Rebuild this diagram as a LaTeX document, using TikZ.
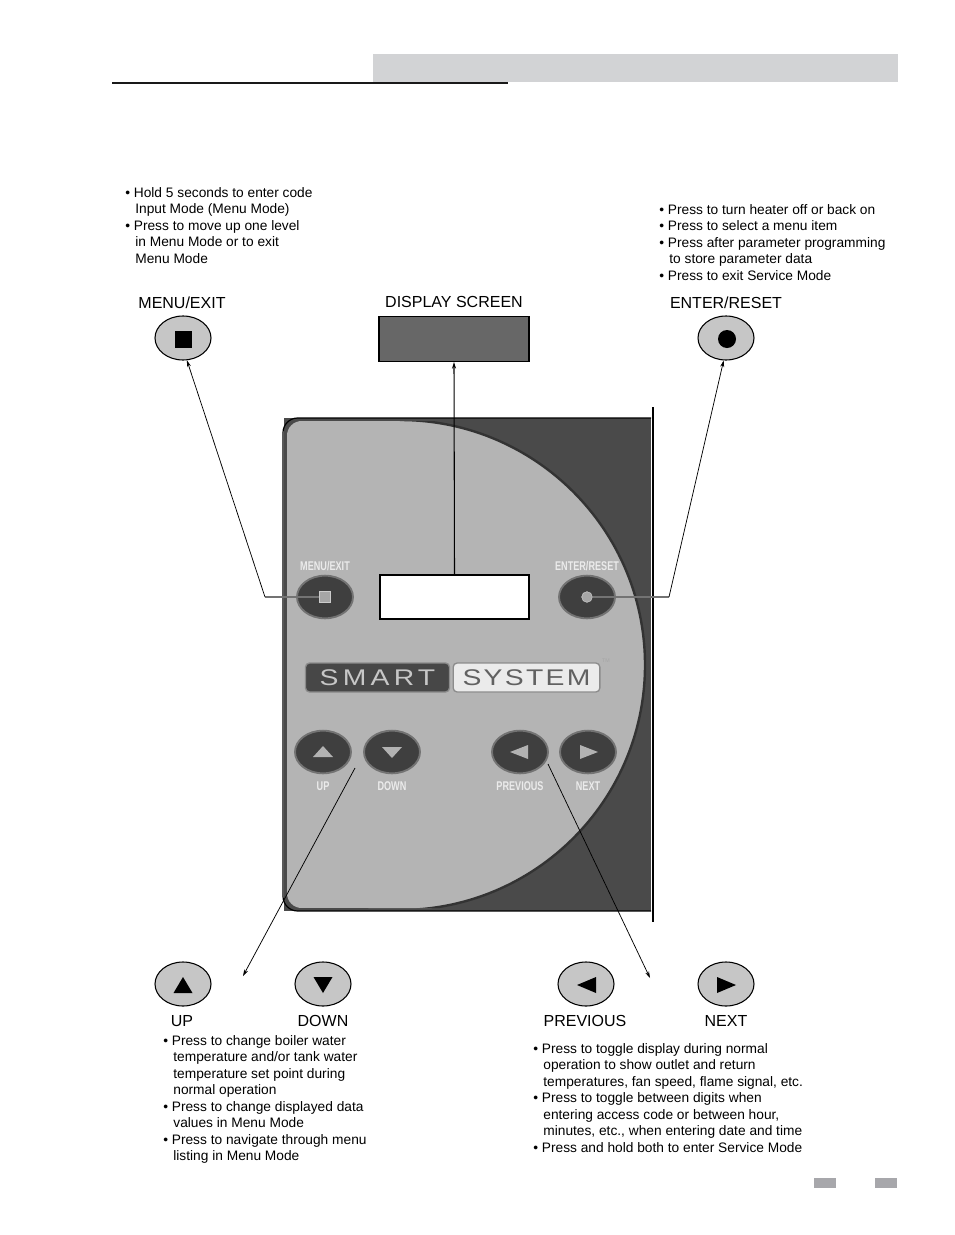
\documentclass[tikz,border=0pt]{standalone}
\usepackage{fontspec}
\setmainfont{Liberation Sans}
\usetikzlibrary{shapes.geometric,arrows.meta}
\definecolor{hdrgray}{HTML}{D2D3D5}
\definecolor{ftgray}{HTML}{A7A7AB}
\definecolor{btnlight}{HTML}{C6C6C6}
\definecolor{screengray}{HTML}{676767}
\definecolor{paneldark}{HTML}{4A4A4A}
\definecolor{panellight}{HTML}{B4B4B4}
\definecolor{pbtn}{HTML}{3F3F3F}
\newcommand\bulitem{•\space}
\newcommand\contind{\hspace*{7.6pt}}
\tikzset{
  bigbtn/.style={ellipse, draw=black, line width=0.8pt, fill=btnlight,
    minimum width=42pt, minimum height=33pt, inner sep=0pt},
  panbtn/.style={ellipse, draw=black!55, line width=1.4pt, fill=pbtn,
    minimum width=42pt, minimum height=32pt, inner sep=0pt},
  lbl/.style={font=\fontsize{12}{14}\selectfont, inner sep=0pt, anchor=base},
  notes/.style={font=\fontsize{10.3}{12.35}\selectfont, align=left,
    anchor=north west, inner sep=0pt},
  panlbl/.style={font=\fontsize{9.5}{10}\selectfont\bfseries,
    text=white!92!black, inner sep=0pt},
  leader/.style={black, line width=0.55pt},
  grayleader/.style={black!55, line width=0.9pt},
  tip/.style={-{Stealth[length=5pt,width=3pt]}},
}
\begin{document}
\begin{tikzpicture}[x=0.75pt,y=-0.75pt]
\useasboundingbox (0,0) rectangle (954,1235);

% header
\fill[hdrgray] (373,54) rectangle (898,82);
\draw[black!90, line width=1.2pt] (112,83) -- (508,83);

% footer marks
\fill[ftgray] (814,1178) rectangle (836,1188);
\fill[ftgray] (875,1178) rectangle (897,1188);

% ---------- control panel ----------
\fill[paneldark] (284,418) rectangle (651,911);
\begin{scope}
  \clip[rounded corners=11pt] (287,421) rectangle (649,908);
  \fill[panellight] (287,421) rectangle (401,908);
  \fill[panellight] (400,665) circle [radius=183.75pt];
  \draw[black!80, line width=1.8pt] (400,420)
     arc[start angle=90, end angle=-90, radius=183.75pt];
\end{scope}
\draw[black, line width=0.9pt, rounded corners=11pt]
  (651,418) -- (283,418) -- (283,911) -- (651,911);
\draw[black, line width=0.9pt] (653,407) -- (653,922);

% panel buttons
\node[panbtn] (pmenu) at (325,597) {};
\node[fill=black!35, draw=black!20, minimum size=8pt, inner sep=0pt] (pmenuicon) at (325,597) {};
\node[panlbl] (pmenulbl) at (325,566) {\scalebox{0.72}[1]{MENU/EXIT}};
\node[panbtn] (penter) at (587,597) {};
\node[circle, fill=black!35, draw=black!20, minimum size=8pt, inner sep=0pt] (pentericon) at (587,597) {};
\node[panlbl] (penterlbl) at (587,566) {\scalebox{0.72}[1]{ENTER/RESET}};

\node[rectangle, fill=white, draw=black, line width=0.8pt,
      minimum width=111.75pt, minimum height=33pt, inner sep=0pt] (pscreen) at (454.5,597) {};

% logo
\node[draw=black!45, line width=1pt, fill=black!72, rounded corners=3pt,
      minimum width=108pt, minimum height=21.75pt, inner sep=0pt] (logosmart) at (377.5,677.5)
  {\fontsize{17}{17}\selectfont\color{black!22}\scalebox{1.25}[1]{\addfontfeatures{LetterSpace=15}SMART}};
\node[draw=black!45, line width=1pt, fill=black!8, rounded corners=3pt,
      minimum width=110pt, minimum height=21.75pt, inner sep=0pt] (logosystem) at (526.5,677.5)
  {\fontsize{17}{17}\selectfont\color{black!62}\scalebox{1.25}[1]{\addfontfeatures{LetterSpace=8}SYSTEM}};
\node[font=\fontsize{4}{4}\selectfont, text=black!35, inner sep=0pt] (tm) at (606,661) {TM};

\node[panbtn] (pup) at (323,752) {};
\node[panbtn] (pdown) at (392,752) {};
\node[panbtn] (pprev) at (520,752) {};
\node[panbtn] (pnext) at (588,752) {};
\fill[black!30] (313,757) -- (333,757) -- (323,746) -- cycle;
\fill[black!30] (382,747) -- (402,747) -- (392,758) -- cycle;
\fill[black!30] (510,752) -- (528,745) -- (528,759) -- cycle;
\fill[black!30] (580,745) -- (580,759) -- (598,752) -- cycle;
\node[panlbl] (puplbl) at (323,786) {\scalebox{0.72}[1]{UP}};
\node[panlbl] (pdownlbl) at (392,786) {\scalebox{0.72}[1]{DOWN}};
\node[panlbl] (pprevlbl) at (520,786) {\scalebox{0.72}[1]{PREVIOUS}};
\node[panlbl] (pnextlbl) at (588,786) {\scalebox{0.72}[1]{NEXT}};

% ---------- top callouts ----------
\node[bigbtn] (bmenu) at (183,338) {};
\node[fill=black, minimum size=12.75pt, inner sep=0pt] (bmenuicon) at (183,339) {};
\node[lbl] (lmenu) at (182,308) {MENU/EXIT};

\node[rectangle, fill=screengray, draw=black, line width=0.8pt,
      minimum width=112.5pt, minimum height=33.75pt, inner sep=0pt] (dscreen) at (454,339) {};
\node[lbl] (ldisplay) at (454,307) {DISPLAY SCREEN};

\node[bigbtn] (benter) at (726,338) {};
\node[circle, fill=black, minimum size=13.5pt, inner sep=0pt] (bentericon) at (727,339) {};
\node[lbl] (lenter) at (726,308) {ENTER/RESET};

\node[notes] (nmenu) at (125,187) {\bulitem Hold 5 seconds to enter code\\
\contind Input Mode (Menu Mode)\\
\bulitem Press to move up one level\\
\contind in Menu Mode or to exit\\
\contind Menu Mode};

\node[notes] (nenter) at (659,204) {\bulitem Press to turn heater off or back on\\
\bulitem Press to select a menu item\\
\bulitem Press after parameter programming\\
\contind to store parameter data\\
\bulitem Press to exit Service Mode};

% ---------- bottom callouts ----------
\node[bigbtn] (bup) at (183,984) {};
\node[bigbtn] (bdown) at (323,984) {};
\node[bigbtn] (bprev) at (586,984) {};
\node[bigbtn] (bnext) at (726,984) {};
\fill[black] (173.5,993) -- (192.5,993) -- (183,977) -- cycle;
\fill[black] (313.5,977) -- (332.5,977) -- (323,993) -- cycle;
\fill[black] (577,985) -- (596,977) -- (596,993) -- cycle;
\fill[black] (717,977) -- (717,993) -- (736,985) -- cycle;
\node[lbl] (lup) at (182,1026) {UP};
\node[lbl] (ldown) at (323,1026) {DOWN};
\node[lbl] (lprev) at (585,1026) {PREVIOUS};
\node[lbl] (lnext) at (726,1026) {NEXT};

\node[notes] (nupdown) at (163,1035) {\bulitem Press to change boiler water\\
\contind temperature and/or tank water\\
\contind temperature set point during\\
\contind normal operation\\
\bulitem Press to change displayed data\\
\contind values in Menu Mode\\
\bulitem Press to navigate through menu\\
\contind listing in Menu Mode};

\node[notes] (nprevnext) at (533,1043) {\bulitem Press to toggle display during normal\\
\contind operation to show outlet and return\\
\contind temperatures, fan speed, flame signal, etc.\\
\bulitem Press to toggle between digits when\\
\contind entering access code or between hour,\\
\contind minutes, etc., when entering date and time\\
\bulitem Press and hold both to enter Service Mode};

% ---------- connectors ----------
\coordinate (kmenu) at (265,597);
\coordinate (kenter) at (669,597);
\coordinate (kud) at (355,768);
\coordinate (kudtip) at (243,976);
\coordinate (kpn) at (548,764);
\coordinate (kpntip) at (650,978);
\draw[grayleader] (pmenuicon.west) -- (kmenu);
\draw[leader,tip] (kmenu) -- (bmenu.-80);
\draw[leader,line width=0.8pt,tip] (pscreen.north) -- (dscreen.south);
\draw[grayleader] (pentericon.east) -- (kenter);
\draw[leader,tip] (kenter) -- (benter.-96);
\draw[leader,tip] (kud) -- (kudtip);
\draw[leader,tip] (kpn) -- (kpntip);
\end{tikzpicture}
\end{document}
